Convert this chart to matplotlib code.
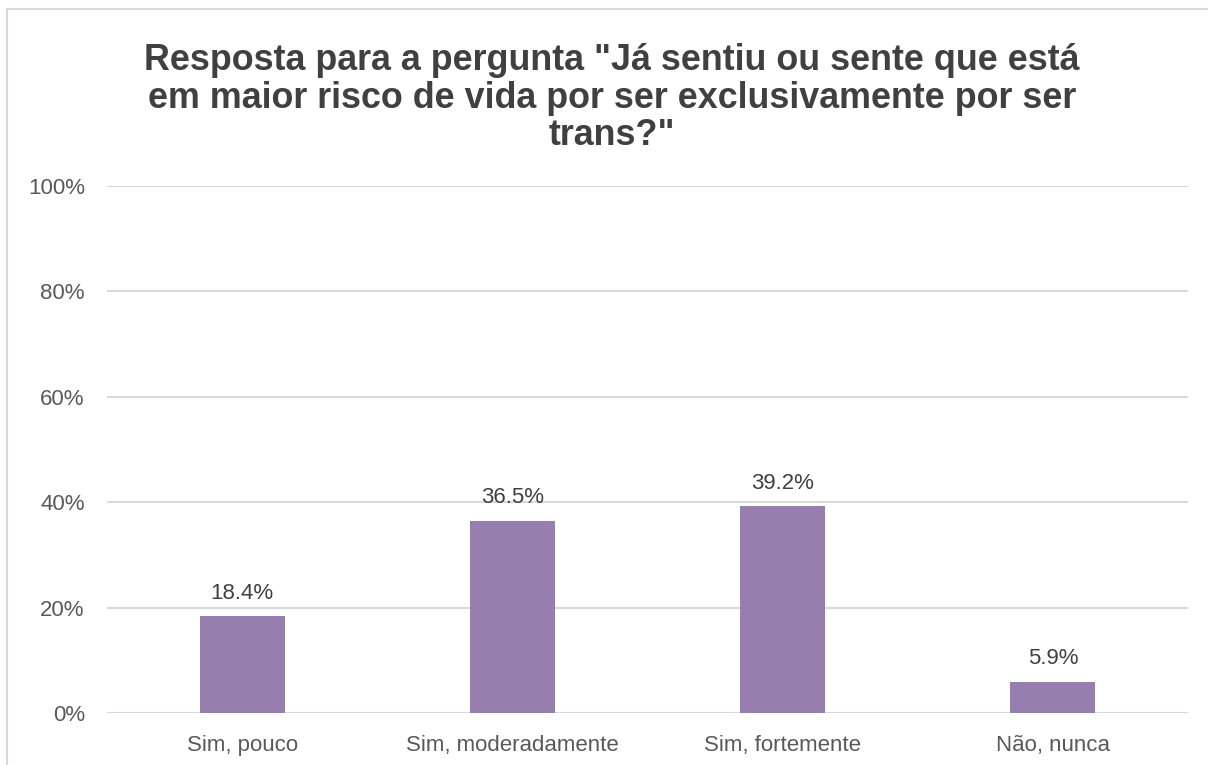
import matplotlib
matplotlib.use("Agg")
import matplotlib.pyplot as plt
from matplotlib.patches import Rectangle
from matplotlib.ticker import FuncFormatter, MultipleLocator

categories = ["Sim, pouco", "Sim, moderadamente", "Sim, fortemente", "Não, nunca"]
values = [18.4, 36.5, 39.2, 5.9]
title = 'Resposta para a pergunta "Já sentiu ou sente que está\nem maior risco de vida por ser exclusivamente por ser\ntrans?"'

plt.rcParams['font.family'] = ['Liberation Sans', 'DejaVu Sans']

W, H = 1208, 765
fig = plt.figure(figsize=(W / 100, H / 100), dpi=100)
fig.patch.set_facecolor('white')

# outer chart border (extends beyond right/bottom edge)
fig.patches.append(Rectangle((6.5 / W, -0.05), 1.1, 1 - 9.5 / H + 0.05,
                             transform=fig.transFigure, fill=False,
                             edgecolor='#D9D9D9', linewidth=1.5))

left, right = 107 / W, 1188 / W
bottom, top = 1 - 713 / H, 1 - 186 / H
ax = fig.add_axes([left, bottom, right - left, top - bottom])

x = range(len(categories))
bars = ax.bar(x, values, width=0.315, color='#967EAE', zorder=3)
ax.set_xlim(-0.5, len(categories) - 0.5)
ax.set_ylim(0, 100)
ax.yaxis.set_major_locator(MultipleLocator(20))
ax.yaxis.set_major_formatter(FuncFormatter(lambda v, p: f"{v:.0f}%"))
ax.grid(axis='y', color='#D9D9D9', linewidth=1.5, zorder=0)
ax.set_axisbelow(True)
for s in ['top', 'right', 'left', 'bottom']:
    ax.spines[s].set_visible(False)
ax.tick_params(axis='both', length=0, labelsize=16, colors='#595959')
ax.tick_params(axis='y', pad=16)
ax.tick_params(axis='x', pad=15.5)
ax.set_xticks(list(x))
ax.set_xticklabels(categories)

for b, v in zip(bars, values):
    ax.annotate(f"{v:.1f}%", (b.get_x() + b.get_width() / 2, v),
                xytext=(0, 9), textcoords='offset points', ha='center', va='bottom',
                fontsize=16, color='#404040')

fig.text(612 / W, 1 - 98 / H, title, ha='center', va='center',
         fontsize=25.8, fontweight='bold', color='#404040', linespacing=1.1)

fig.savefig('out.png', dpi=100)
